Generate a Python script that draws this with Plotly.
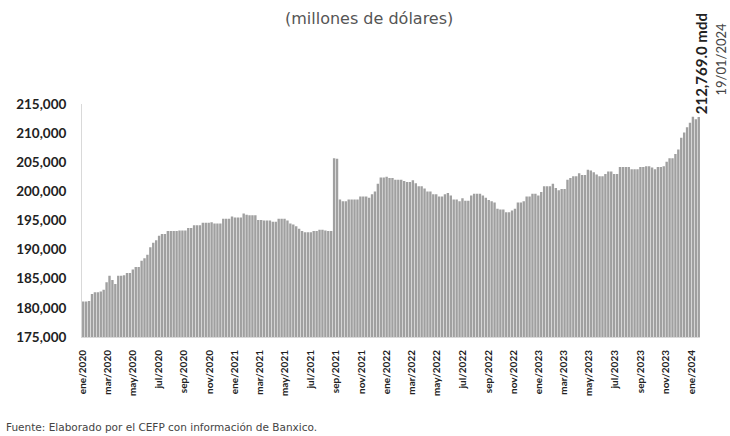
import datetime as dt
import plotly.graph_objects as go

start_date = "2020-01-03"
n_weeks = 212

reserves = [
    181.1, 181.1, 181.2, 182.4, 182.7, 182.7, 182.8, 183.1, 184.4, 185.5,
    184.8, 184.1, 185.5, 185.5, 185.6, 186.0, 186.0, 186.6, 187.0, 187.0,
    188.1, 188.5, 189.1, 190.4, 191.2, 191.6, 192.4, 192.7, 192.7, 193.2,
    193.2, 193.2, 193.2, 193.3, 193.3, 193.3, 193.7, 193.7, 194.2, 194.2,
    194.2, 194.6, 194.6, 194.6, 194.7, 194.5, 194.5, 194.5, 195.3, 195.3,
    195.3, 195.7, 195.5, 195.5, 195.5, 196.2, 196.0, 195.9, 195.9, 195.9,
    195.1, 195.1, 195.0, 195.0, 195.0, 194.8, 194.8, 195.3, 195.3, 195.3,
    195.0, 194.5, 194.3, 194.0, 193.6, 193.2, 193.0, 193.0, 193.0, 193.2,
    193.2, 193.4, 193.4, 193.3, 193.2, 193.2, 205.7, 205.6, 198.6, 198.3,
    198.3, 198.6, 198.6, 198.6, 198.6, 199.1, 199.1, 199.1, 198.9, 199.5,
    200.0, 201.3, 202.4, 202.4, 202.5, 202.3, 202.3, 202.0, 202.0, 202.0,
    201.8, 201.6, 201.6, 201.9, 201.4, 200.9, 200.9, 200.5, 200.0, 200.0,
    199.5, 199.5, 199.1, 199.1, 199.5, 199.7, 199.3, 198.6, 198.6, 198.3,
    198.8, 198.4, 198.4, 199.3, 199.6, 199.6, 199.6, 199.3, 198.9, 198.5,
    198.3, 198.1, 197.0, 196.9, 196.9, 196.4, 196.4, 196.7, 197.0, 198.1,
    198.1, 198.3, 199.1, 199.1, 199.6, 199.6, 199.3, 199.9, 200.9, 200.9,
    200.9, 201.3, 200.6, 200.2, 200.4, 200.4, 202.0, 202.3, 202.6, 202.6,
    203.1, 202.8, 202.8, 203.7, 203.6, 203.3, 202.9, 202.6, 202.6, 203.0,
    203.4, 203.4, 203.0, 203.0, 204.2, 204.2, 204.2, 204.2, 203.8, 203.8,
    203.8, 204.2, 204.2, 204.3, 204.3, 204.1, 203.8, 204.2, 204.2, 204.3,
    205.1, 205.7, 205.7, 206.4, 207.2, 209.2, 210.1, 211.0, 211.8, 212.8,
    212.4, 212.769,
]

tick_dates = [
    "2020-01-01", "2020-03-01", "2020-05-01", "2020-07-01", "2020-09-01", "2020-11-01",
    "2021-01-01", "2021-03-01", "2021-05-01", "2021-07-01", "2021-09-01", "2021-11-01",
    "2022-01-01", "2022-03-01", "2022-05-01", "2022-07-01", "2022-09-01", "2022-11-01",
    "2023-01-01", "2023-03-01", "2023-05-01", "2023-07-01", "2023-09-01", "2023-11-01",
    "2024-01-01",
]
tick_labels = [
    "ene/2020", "mar/2020", "may/2020", "jul/2020", "sep/2020", "nov/2020",
    "ene/2021", "mar/2021", "may/2021", "jul/2021", "sep/2021", "nov/2021",
    "ene/2022", "mar/2022", "may/2022", "jul/2022", "sep/2022", "nov/2022",
    "ene/2023", "mar/2023", "may/2023", "jul/2023", "sep/2023", "nov/2023",
    "ene/2024",
]

y_ticks = [175000, 180000, 185000, 190000, 195000, 200000, 205000, 210000, 215000]

title_text = "(millones de dólares)"
last_label = "212,769.0 mdd"
last_date_label = "19/01/2024"
source_text = "Fuente: Elaborado por el CEFP con información de Banxico."

d0 = dt.date.fromisoformat(start_date)
dates = [d0 + dt.timedelta(weeks=i) for i in range(n_weeks)]
values = [v * 1000 for v in reserves]

FONT = "Lato"
WIDE = "DejaVu Sans"

fig = go.Figure()
fig.add_trace(go.Bar(
    x=dates, y=values,
    marker=dict(color="#a0a0a0", line=dict(width=0)),
    hoverinfo="x+y",
))

x_lo = dates[0] - dt.timedelta(days=3.5)
x_hi = dates[-1] + dt.timedelta(days=3.5)

fig.update_layout(
    width=730, height=436,
    margin=dict(l=82, r=30, t=104, b=99),
    paper_bgcolor="white", plot_bgcolor="white",
    bargap=0.18,
    showlegend=False,
    font=dict(family=FONT, color="#222"),
    xaxis=dict(
        type="date", range=[x_lo, x_hi],
        tickvals=tick_dates, ticktext=tick_labels,
        tickangle=-90,
        tickfont=dict(size=10, family=FONT, color="#222", weight="bold"),
        ticks="outside", ticklen=8, tickcolor="rgba(0,0,0,0)",
        showgrid=False, showline=True, linecolor="#d9d9d9", linewidth=1,
        zeroline=False,
    ),
    yaxis=dict(
        range=[175000, 215000],
        tickvals=y_ticks, tickformat=",d",
        tickfont=dict(size=13.5, family=FONT, color="#222", weight="bold"),
        ticks="outside", ticklen=12, tickcolor="rgba(0,0,0,0)",
        showgrid=False, showline=True, linecolor="#d9d9d9", linewidth=1,
        zeroline=False,
    ),
    annotations=[
        dict(text=title_text, xref="paper", yref="paper", x=0.465, y=1.0,
             yshift=86, xanchor="center", yanchor="middle", showarrow=False,
             font=dict(size=16, color="#555", family=WIDE)),
        dict(text=last_label, xref="x", yref="y", x=dates[-1], y=values[-1],
             xanchor="center", yanchor="bottom", textangle=-90, showarrow=False,
             xshift=2, yshift=1,
             font=dict(size=15, color="#222", family=FONT, weight="bold")),
        dict(text=last_date_label, xref="paper", yref="paper", x=1.0, y=1.0,
             xanchor="center", yanchor="bottom", textangle=-90, showarrow=False,
             xshift=20, yshift=6,
             font=dict(size=13, color="#444", family=FONT)),
        dict(text=source_text, xref="paper", yref="paper", x=0, y=0,
             xshift=-78, yshift=-90, xanchor="left", yanchor="middle",
             showarrow=False, font=dict(size=10.5, color="#444", family=WIDE)),
    ],
)

fig.write_html(
    "out.html",
    config={"displayModeBar": False},
    post_script="document.body.style.margin='0';document.body.style.overflow='hidden';",
)
